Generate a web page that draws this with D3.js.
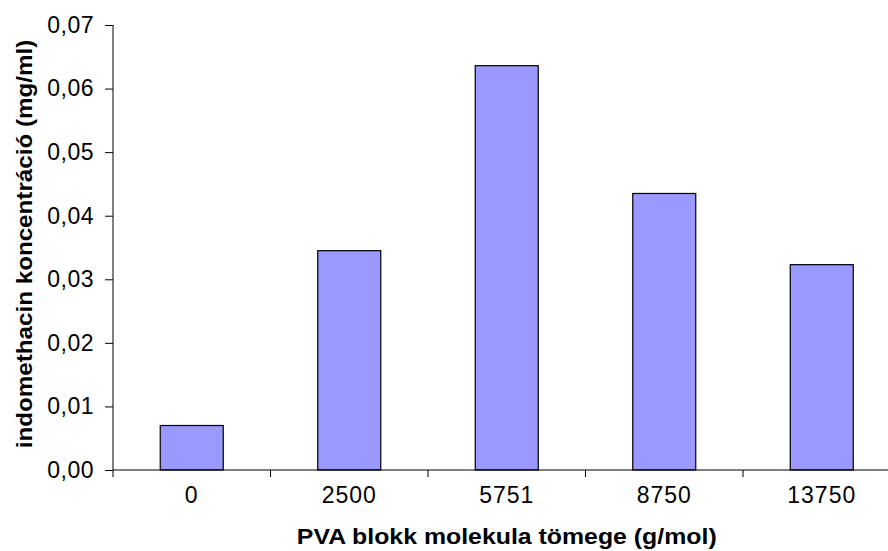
<!DOCTYPE html>
<html>
<head>
<meta charset="utf-8">
<script src="https://cdn.jsdelivr.net/npm/d3@7"></script>
<style>
  html, body { margin: 0; padding: 0; background: #fff; }
  svg { display: block; font-family: "Liberation Sans", Arial, sans-serif; }
</style>
</head>
<body>
<svg id="chart" width="888" height="551"></svg>
<script>
// PVA block molecular weight (g/mol) vs. indomethacin concentration (mg/ml)
const categories = ["0", "2500", "5751", "8750", "13750"];
const concentrations = [0.0070, 0.0345, 0.0636, 0.0435, 0.0323];
const yTicks = [0, 0.01, 0.02, 0.03, 0.04, 0.05, 0.06, 0.07];
const xTitle = "PVA blokk molekula tömege (g/mol)";
const yTitle = "indomethacin koncentráció (mg/ml)";

const svg = d3.select("#chart");
const plotLeft = 113, plotRight = 900.5, plotTop = 25, plotBottom = 470;

const x = d3.scaleBand()
  .domain(categories)
  .range([plotLeft, plotRight])
  .paddingInner(0.6)
  .paddingOuter(0.3);

const y = d3.scaleLinear()
  .domain([0, 0.07])
  .range([plotBottom, plotTop]);

const fmt = d => d.toFixed(2).replace(".", ",");

// bars
svg.append("g")
  .selectAll("rect")
  .data(categories.map((c, i) => ({ c, v: concentrations[i] })))
  .join("rect")
  .attr("x", d => x(d.c))
  .attr("y", d => y(d.v))
  .attr("width", x.bandwidth())
  .attr("height", d => y(0) - y(d.v))
  .attr("fill", "#9999ff")
  .attr("stroke", "#000")
  .attr("stroke-width", 1.2);

// y axis
const yAxis = svg.append("g")
  .attr("transform", `translate(${plotLeft},0)`)
  .call(d3.axisLeft(y).tickValues(yTicks).tickFormat(fmt).tickSize(8).tickPadding(11));
yAxis.select(".domain").attr("d", `M0,${plotTop}V${plotBottom + 7}`).attr("stroke", "#000");
yAxis.selectAll("line").attr("stroke", "#000");
yAxis.selectAll("text")
  .attr("font-size", 23)
  .attr("letter-spacing", 0.5)
  .attr("fill", "#000")
  .attr("font-family", "Liberation Sans, Arial, sans-serif");

// x axis: labels under each band, ticks on the category boundaries
const xAxis = svg.append("g")
  .attr("transform", `translate(0,${plotBottom})`)
  .call(d3.axisBottom(x).tickSize(0).tickPadding(17));
xAxis.select(".domain").attr("d", `M${plotLeft},0H${plotRight}`).attr("stroke", "#000");
xAxis.selectAll("text")
  .attr("font-size", 23)
  .attr("letter-spacing", 1)
  .attr("fill", "#000")
  .attr("font-family", "Liberation Sans, Arial, sans-serif");

const step = x.step();
const boundaries = categories.map(c => x(c) - step * x.paddingOuter()).concat([plotRight]);
xAxis.append("g")
  .selectAll("line")
  .data(boundaries.slice(1))
  .join("line")
  .attr("x1", d => d).attr("x2", d => d)
  .attr("y1", 0).attr("y2", 7)
  .attr("stroke", "#000");

// axis titles (slightly widened type)
svg.append("text")
  .attr("transform", `translate(${(plotLeft + plotRight) / 2},544) scale(1.13,1)`)
  .attr("text-anchor", "middle")
  .attr("font-size", 22)
  .attr("font-weight", "bold")
  .text(xTitle);

svg.append("text")
  .attr("transform", `translate(31.5,244) rotate(-90) scale(1.1,1)`)
  .attr("text-anchor", "middle")
  .attr("font-size", 22)
  .attr("font-weight", "bold")
  .text(yTitle);
</script>
</body>
</html>
